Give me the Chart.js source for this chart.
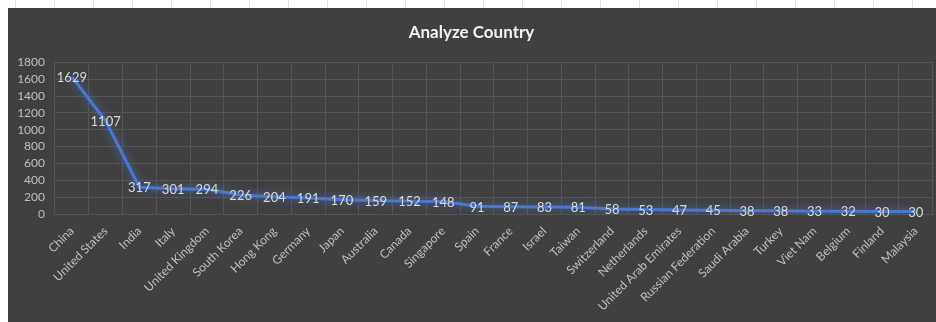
<!DOCTYPE html>
<html>
<head>
<meta charset="utf-8">
<script src="https://cdn.jsdelivr.net/npm/chart.js@4"></script>
<style>
  html, body { margin: 0; padding: 0; }
  body {
    width: 936px; height: 322px; overflow: hidden; position: relative;
    background: #ffffff;
  }
  /* faint spreadsheet cell lines peeking out above the chart */
  #sheet {
    position: absolute; left: 0; top: 0; width: 936px; height: 8px;
    background: repeating-linear-gradient(to right, transparent 0 15px, #e2e2e2 15px 16px, transparent 16px 39px);
  }
  #chart-box {
    position: absolute; left: 8px; top: 8px; width: 928px; height: 314px;
    background: #404040;
  }
</style>
</head>
<body>
<div id="sheet"></div>
<div id="chart-box"><canvas id="graph-canvas" width="928" height="314"></canvas></div>
<script>
const countries = [
  'China', 'United States', 'India', 'Italy', 'United Kingdom', 'South Korea',
  'Hong Kong', 'Germany', 'Japan', 'Australia', 'Canada', 'Singapore', 'Spain',
  'France', 'Israel', 'Taiwan', 'Switzerland', 'Netherlands', 'United Arab Emirates',
  'Russian Federation', 'Saudi Arabia', 'Turkey', 'Viet Nam', 'Belgium', 'Finland', 'Malaysia'
];
const counts = [
  1629, 1107, 317, 301, 294, 226, 204, 191, 170, 159, 152, 148, 91,
  87, 83, 81, 58, 53, 47, 45, 38, 38, 33, 32, 30, 30
];
const yTicks = [0, 200, 400, 600, 800, 1000, 1200, 1400, 1600, 1800];

const font = "Lato, 'Open Sans', sans-serif";

//soft blue glow around the line, like the Excel shadow effect
const glowPlugin = {
  id: 'glow',
  beforeDatasetDraw(chart) {
    const ctx = chart.ctx;
    ctx.save();
    ctx.shadowColor = 'rgba(80, 130, 230, 0.75)';
    ctx.shadowBlur = 9;
  },
  afterDatasetDraw(chart) {
    chart.ctx.restore();
  }
};

//value labels sit right on top of each point
const valueLabels = {
  id: 'valueLabels',
  afterDatasetsDraw(chart) {
    const ctx = chart.ctx;
    const meta = chart.getDatasetMeta(0);
    ctx.save();
    ctx.font = '13px ' + font;
    ctx.fillStyle = '#d9d9d9';
    ctx.textAlign = 'center';
    ctx.textBaseline = 'middle';
    meta.data.forEach((pt, i) => {
      ctx.fillText(String(counts[i]), pt.x, pt.y + 1);
    });
    ctx.restore();
  }
};

new Chart(document.getElementById('graph-canvas'), {
  type: 'line',
  data: {
    labels: countries,
    datasets: [{
      label: 'Count',
      data: counts,
      borderColor: '#4a78d0',
      borderWidth: 3,
      pointRadius: 0,
      tension: 0,
      fill: false
    }]
  },
  options: {
    responsive: false,
    animation: false,
    layout: { padding: { left: 0, right: 1, top: 0, bottom: 0 } },
    plugins: {
      legend: { display: false },
      tooltip: { enabled: false },
      title: {
        display: true,
        text: 'Analyze Country',
        color: '#f2f2f2',
        font: { family: font, size: 17, weight: 'bold' },
        padding: { top: 14, bottom: 20 }
      }
    },
    scales: {
      x: {
        offset: true,
        grid: { color: '#555555', lineWidth: 1, offset: true, drawTicks: false },
        border: { display: false },
        ticks: {
          color: '#bfbfbf',
          font: { family: font, size: 12 },
          minRotation: 45,
          maxRotation: 45,
          autoSkip: false,
          padding: 10
        },
        afterFit(scale) { scale.height = 108; }
      },
      y: {
        min: 0,
        max: 1800,
        afterBuildTicks(scale) { scale.ticks = yTicks.map(v => ({ value: v })); },
        grid: { color: '#555555', lineWidth: 1, drawTicks: false },
        border: { display: false },
        ticks: {
          color: '#bfbfbf',
          font: { family: font, size: 12 },
          autoSkip: false,
          padding: 10,
          callback: v => String(v)
        },
        afterFit(scale) { scale.width = 47; }
      }
    }
  },
  plugins: [glowPlugin, valueLabels]
});
</script>
</body>
</html>
